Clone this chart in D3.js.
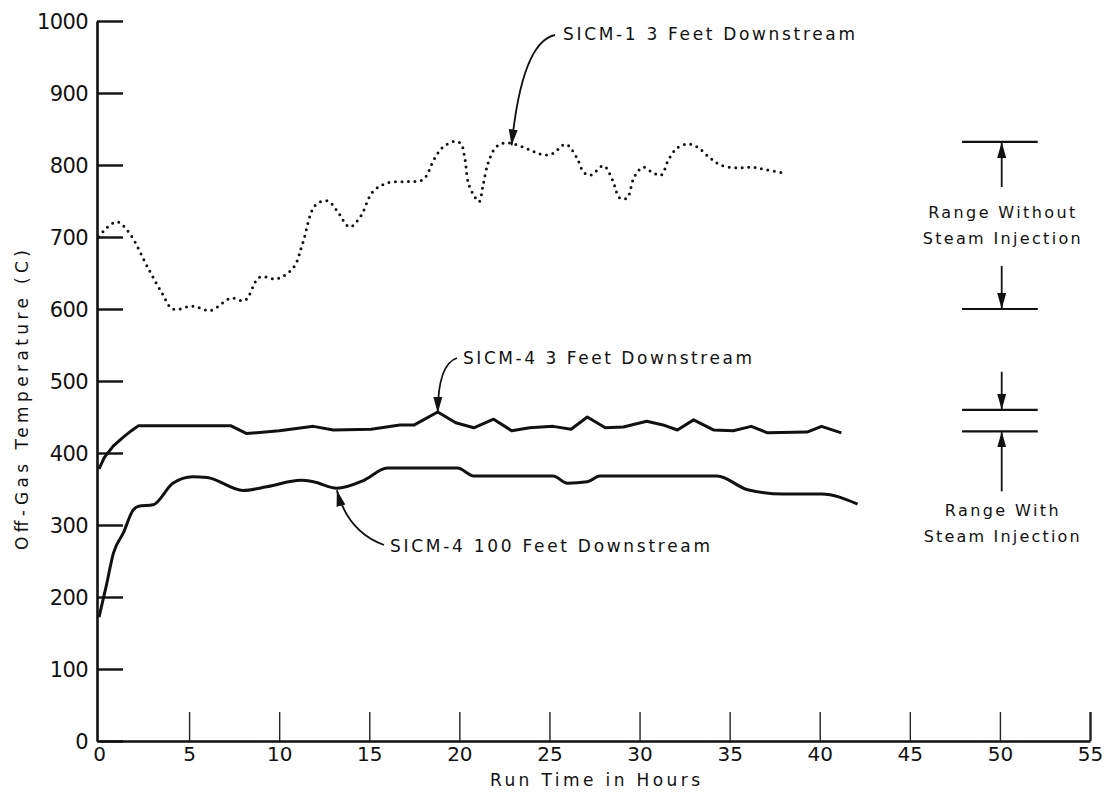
<!DOCTYPE html>
<html>
<head>
<meta charset="utf-8">
<script src="https://cdn.jsdelivr.net/npm/d3@7"></script>
<style>
  html, body { margin: 0; padding: 0; background: #fff; }
  svg { display: block; font-family: "DejaVu Sans", "Liberation Sans", sans-serif; }
</style>
</head>
<body>
<svg id="chart" width="1109" height="800"></svg>
<script>
// ---------- data ----------
const xTicks = [0, 5, 10, 15, 20, 25, 30, 35, 40, 45, 50, 55];
const yTicks = [0, 100, 200, 300, 400, 500, 600, 700, 800, 900, 1000];

// SICM-1 3 Feet Downstream (dotted)
const sicm1Hours = [0, 0.4, 1.0, 1.7, 2.7, 3.5, 4.1, 5.2, 6.2, 7.3, 8.1, 8.9, 9.9, 10.8, 11.3, 12.0, 12.7, 13.2, 13.9, 14.5, 15.2, 16.0, 17.1, 18.0, 18.6, 19.1, 19.8, 20.1, 20.3, 20.5, 20.8, 21.1, 21.3, 21.6, 22.0, 22.4, 22.9, 23.6, 24.2, 24.7, 25.2, 25.9, 26.5, 26.9, 27.3, 28.0, 28.5, 28.9, 29.3, 29.7, 30.2, 30.7, 31.2, 31.6, 32.1, 32.7, 33.2, 33.9, 34.5, 35.4, 36.2, 36.9, 38.0];
const sicm1Temp  = [700, 712, 721, 705, 658, 622, 600, 604, 598, 615, 612, 644, 642, 658, 691, 744, 750, 737, 714, 728, 763, 775, 777, 780, 808, 825, 833, 829, 810, 775, 758, 749, 770, 803, 824, 830, 830, 824, 818, 814, 816, 829, 811, 790, 786, 799, 779, 754, 754, 783, 797, 790, 786, 807, 824, 829, 825, 810, 800, 796, 797, 794, 789];

// SICM-4 3 Feet Downstream (solid)
const sicm4aHours = [0, 0.3, 0.8, 1.35, 1.8, 2.2, 7.3, 8.2, 10.0, 11.9, 13.0, 15.1, 16.7, 17.5, 18.8, 19.8, 20.8, 21.9, 22.9, 23.9, 25.2, 26.2, 27.1, 28.1, 29.1, 30.4, 31.3, 32.1, 33.0, 34.1, 35.2, 36.2, 37.1, 39.3, 40.1, 41.2];
const sicm4aTemp  = [378, 394, 410, 422, 431, 438, 438, 427, 431, 437, 432, 433, 439, 439, 457, 442, 435, 447, 431, 435, 437, 433, 450, 435, 436, 444, 439, 432, 446, 432, 431, 437, 428, 429, 437, 428];

// SICM-4 100 Feet Downstream (solid)
const sicm4bHours = [0, 0.4, 0.8, 1.35, 1.9, 2.2, 3.0, 4.1, 5.2, 6.0, 8.0, 9.3, 11.2, 11.9, 13.2, 14.7, 16.0, 19.9, 20.8, 25.2, 26.0, 27.1, 27.8, 34.3, 36.0, 38.0, 40.1, 42.1];
const sicm4bTemp  = [172, 215, 261, 289, 321, 326, 328, 358, 367, 366, 348, 353, 362, 360, 351, 362, 379, 379, 368, 368, 358, 360, 368, 368, 349, 343, 343, 329];

// ranges shown at right
const rangeWithout = [600, 832];
const rangeWith = [430, 460];

// ---------- layout ----------
const svg = d3.select("#chart");
const x = d3.scaleLinear().domain([0, 55]).range([99, 1090]);
const y = d3.scaleLinear().domain([0, 1000]).range([741, 21]);

const zip = (a, b) => a.map((t, i) => [t, b[i]]);

// arrow marker
const defs = svg.append("defs");
defs.append("marker")
  .attr("id", "arr")
  .attr("markerUnits", "userSpaceOnUse")
  .attr("viewBox", "0 -5 16 10")
  .attr("refX", 16).attr("refY", 0)
  .attr("markerWidth", 16).attr("markerHeight", 10)
  .attr("orient", "auto")
  .append("path").attr("d", "M0,-4.5L16,0L0,4.5Z").attr("fill", "#111");

// axes
const yAxis = d3.axisLeft(y).tickValues(yTicks).tickFormat(d3.format("d"))
  .tickSizeInner(-26).tickSizeOuter(0).tickPadding(9);
const gy = svg.append("g").attr("transform", "translate(97,0)").call(yAxis);
gy.attr("font-size", 21).attr("font-family", null);
gy.select(".domain").attr("stroke", "#111").attr("stroke-width", 2.6);
gy.selectAll(".tick line").attr("stroke", "#111").attr("stroke-width", 2.4);
gy.selectAll(".tick text").style("font-size", "21px").attr("fill", "#111").attr("dy", "0.35em")
  .attr("letter-spacing", -0.6);

const xAxis = d3.axisBottom(x).tickValues(xTicks).tickFormat(d3.format("d"))
  .tickSizeInner(-29).tickSizeOuter(0).tickPadding(6);
const gx = svg.append("g").attr("transform", "translate(0,741)").call(xAxis);
gx.attr("font-size", 20).attr("font-family", null);
gx.select(".domain").attr("stroke", "#111").attr("stroke-width", 2.4);
gx.selectAll(".tick line").attr("stroke", "#222").attr("stroke-width", 1.4)
  .filter(d => d === 0).remove();
gx.selectAll(".tick line").filter(d => d === 55).attr("stroke-width", 2.4);
gx.selectAll(".tick text").style("font-size", "20px").attr("fill", "#111");

// axis titles
svg.append("text")
  .attr("transform", "translate(28,400) rotate(-90)")
  .attr("text-anchor", "middle")
  .attr("font-size", 17).attr("fill", "#111")
  .attr("textLength", 300).attr("lengthAdjust", "spacing")
  .text("Off-Gas Temperature (C)");
svg.append("text")
  .attr("x", 595).attr("y", 786)
  .attr("text-anchor", "middle")
  .attr("font-size", 17).attr("fill", "#111")
  .attr("textLength", 210).attr("lengthAdjust", "spacing")
  .text("Run Time in Hours");

// lines
const linear = d3.line().x(d => x(d[0])).y(d => y(d[1]));
const solid = d3.line().x(d => x(d[0])).y(d => y(d[1])).curve(d3.curveMonotoneX);
const smooth = d3.line().x(d => x(d[0])).y(d => y(d[1])).curve(d3.curveCatmullRom.alpha(0.5));

svg.append("path").datum(zip(sicm1Hours, sicm1Temp))
  .attr("d", smooth).attr("fill", "none")
  .attr("stroke", "#111").attr("stroke-width", 3)
  .attr("stroke-linecap", "round").attr("stroke-dasharray", "0,6.5");

svg.append("path").datum(zip(sicm4aHours, sicm4aTemp))
  .attr("d", linear).attr("fill", "none")
  .attr("stroke", "#111").attr("stroke-width", 3).attr("stroke-linejoin", "round");

svg.append("path").datum(zip(sicm4bHours, sicm4bTemp))
  .attr("d", solid).attr("fill", "none")
  .attr("stroke", "#111").attr("stroke-width", 3).attr("stroke-linejoin", "round");

// series labels with curved arrows
function label(txt, lx, ly, len) {
  svg.append("text").attr("x", lx).attr("y", ly)
    .attr("font-size", 17).attr("fill", "#111")
    .attr("textLength", len).attr("lengthAdjust", "spacing")
    .text(txt);
}
function curvedArrow(x0, y0, cx, cy, tx, ty) {
  svg.append("path")
    .attr("d", `M${x0},${y0}Q${cx},${cy} ${tx},${ty}`)
    .attr("fill", "none").attr("stroke", "#111").attr("stroke-width", 1.8)
    .attr("marker-end", "url(#arr)");
}

label("SICM-1  3 Feet Downstream", 563, 40, 292);
curvedArrow(555, 35, 522, 42, x(22.9), y(830) + 2);

label("SICM-4  3 Feet Downstream", 463, 364, 289);
curvedArrow(457, 358, 438, 364, x(18.8), y(457) + 1);

label("SICM-4  100 Feet Downstream", 390, 552, 320);
curvedArrow(384, 545, 348, 532, x(13.2), y(351) + 2);

// range indicators
const bx0 = x(47.9), bx1 = x(52.1), bxm = x(50.1);
function hbar(v) {
  svg.append("line").attr("x1", bx0).attr("x2", bx1)
    .attr("y1", y(v)).attr("y2", y(v))
    .attr("stroke", "#111").attr("stroke-width", 2.2);
}
function straightArrow(y0, y1) {
  svg.append("line").attr("x1", bxm).attr("x2", bxm)
    .attr("y1", y0).attr("y2", y1)
    .attr("stroke", "#111").attr("stroke-width", 1.8)
    .attr("marker-end", "url(#arr)");
}
hbar(rangeWithout[1]); hbar(rangeWithout[0]);
hbar(rangeWith[1]); hbar(rangeWith[0]);
straightArrow(y(rangeWithout[1]) + 45, y(rangeWithout[1]));
straightArrow(y(rangeWithout[0]) - 43, y(rangeWithout[0]));
straightArrow(y(rangeWith[1]) - 38, y(rangeWith[1]));
straightArrow(y(rangeWith[0]) + 60, y(rangeWith[0]));

function note(lines, cy, widths) {
  lines.forEach((t, i) => {
    svg.append("text").attr("x", bxm).attr("y", cy + i * 26)
      .attr("text-anchor", "middle")
      .attr("font-size", 16).attr("fill", "#111")
      .attr("textLength", widths[i]).attr("lengthAdjust", "spacing")
      .text(t);
  });
}
note(["Range Without", "Steam Injection"], 218, [147, 158]);
note(["Range With", "Steam Injection"], 516, [114, 156]);
</script>
</body>
</html>
